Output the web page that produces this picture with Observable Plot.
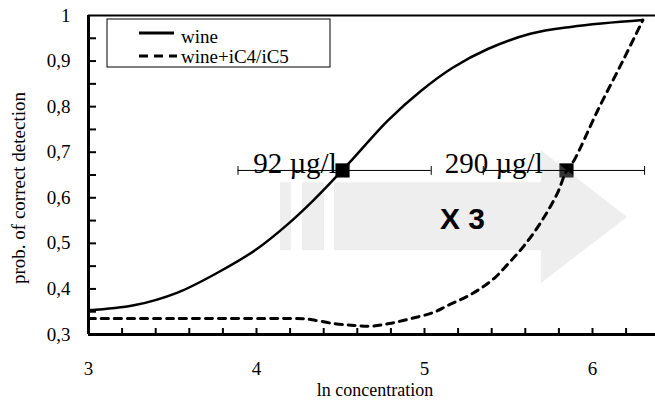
<!DOCTYPE html>
<html><head><meta charset="utf-8">
<script src="https://cdn.jsdelivr.net/npm/d3@7"></script>
<script src="https://cdn.jsdelivr.net/npm/@observablehq/plot@0.6"></script>
<style>
body{margin:0;background:#fff} svg{display:block}
g[aria-label$="tick label"], g[aria-label$="tick label"] text { font-family: 'Liberation Serif', 'Times New Roman', serif !important; }
</style>
</head><body><div id="chart"></div>
<script>
// ---- data ----
const seriesNames = ["wine", "wine+iC4/iC5"];
const wineX = [3.0, 3.27, 3.53, 3.77, 4.0, 4.18, 4.34, 4.51, 4.58, 4.78, 4.98, 5.17, 5.38, 5.63, 5.87, 6.30];
const wineY = [0.353, 0.364, 0.392, 0.436, 0.487, 0.54, 0.595, 0.66, 0.688, 0.769, 0.835, 0.886, 0.927, 0.96, 0.975, 0.99];
const mixX = [3.0, 3.5, 4.2, 4.3, 4.46, 4.58, 4.68, 4.79, 4.92, 5.05, 5.14, 5.24, 5.33, 5.42, 5.50, 5.58, 5.68, 5.79, 5.84, 5.89, 6.03, 6.18, 6.30];
const mixY = [0.335, 0.335, 0.335, 0.334, 0.324, 0.320, 0.318, 0.324, 0.335, 0.348, 0.364, 0.381, 0.400, 0.425, 0.456, 0.489, 0.539, 0.609, 0.655, 0.682, 0.791, 0.900, 0.990];

const thresholdX = [4.512, 5.845];
const thresholdY = [0.66, 0.66];
const thresholdLow = [3.89, 5.35];
const thresholdHigh = [5.04, 6.31];
const thresholdLabels = ["92 µg/l", "290 µg/l"];
const thresholdLabelX = [3.98, 5.12];

const factorLabel = "X 3";
const factorX = 5.226;
const factorY = 0.552;

// arrow annotation (data units)
const arrowRectX1 = [4.143, 4.274, 4.464];
const arrowRectX2 = [4.208, 4.405, 5.696];
const arrowRectLow = [0.484, 0.484, 0.484];
const arrowRectHigh = [0.633, 0.633, 0.633];
const arrowHeadX = [5.696, 6.208];
const arrowHeadLow = [0.412, 0.557];
const arrowHeadHigh = [0.703, 0.557];

const xTickLabels = [3, 4, 5, 6];
const xTickMinor = [3.2, 3.4, 3.6, 3.8, 4.0, 4.2, 4.4, 4.6, 4.8, 5.0, 5.2, 5.4, 5.6, 5.8, 6.0, 6.2];
const yTickLabels = [0.3, 0.4, 0.5, 0.6, 0.7, 0.8, 0.9, 1];
const yTickMinor = [0.35, 0.4, 0.45, 0.5, 0.55, 0.6, 0.65, 0.7, 0.75, 0.8, 0.85, 0.9, 0.95];

const xTitle = "ln concentration";
const yTitle = "prob. of correct detection";

// ---- build ----
const serif = "'Liberation Serif', 'Times New Roman', serif";
const wine = wineX.map((x, i) => ({x, y: wineY[i]}));
const mix = mixX.map((x, i) => ({x, y: mixY[i]}));
const thresholds = thresholdX.map((x, i) => ({x, y: thresholdY[i], lo: thresholdLow[i], hi: thresholdHigh[i], label: thresholdLabels[i], lx: thresholdLabelX[i]}));
const barEnds = thresholds.flatMap(d => [{x: d.lo, y: d.y}, {x: d.hi, y: d.y}]);
const arrowRects = arrowRectX1.map((x1, i) => ({x1, x2: arrowRectX2[i], y1: arrowRectLow[i], y2: arrowRectHigh[i]}));
const arrowHead = arrowHeadX.map((x, i) => ({x, y1: arrowHeadLow[i], y2: arrowHeadHigh[i]}));

const vTick = {draw(ctx, l) { ctx.moveTo(0, 0); ctx.lineTo(0, -l); }};

function legend(index, scales, values, dims) {
  const g = d3.create("svg:g");
  const x0 = dims.marginLeft + 19, y0 = dims.marginTop + 4;
  g.append("rect").attr("x", x0).attr("y", y0).attr("width", 223).attr("height", 48)
    .attr("fill", "white").attr("stroke", "black").attr("stroke-width", 1);
  g.append("line").attr("x1", x0 + 32).attr("x2", x0 + 67).attr("y1", y0 + 14).attr("y2", y0 + 14)
    .attr("stroke", "black").attr("stroke-width", 3);
  g.append("line").attr("x1", x0 + 32).attr("x2", x0 + 70).attr("y1", y0 + 37).attr("y2", y0 + 37)
    .attr("stroke", "black").attr("stroke-width", 3).attr("stroke-dasharray", "9,6");
  seriesNames.forEach((s, i) => {
    g.append("text").attr("x", x0 + 74).attr("y", y0 + 24 + i * 20)
      .attr("text-anchor", "start")
      .attr("font-family", serif).attr("font-size", 19).attr("fill", "black").text(s);
  });
  return g.node();
}

const plot = Plot.plot({
  width: 655, height: 405,
  marginLeft: 88, marginRight: 0, marginTop: 15, marginBottom: 71,
  x: {domain: [3, 6.375]},
  y: {domain: [0.3, 1]},
  style: {fontFamily: serif, background: "white", color: "black", overflow: "visible"},
  marks: [
    Plot.dot(thresholds, {x: "x", y: "y", symbol: "square", r: 8, fill: "black", stroke: null}),
    Plot.rect(arrowRects, {x1: "x1", x2: "x2", y1: "y1", y2: "y2", fill: "#c0c0c0", fillOpacity: 0.27}),
    Plot.area(arrowHead, {x1: "x", y1: "y1", y2: "y2", fill: "#c0c0c0", fillOpacity: 0.27}),
    Plot.line(wine, {x: "x", y: "y", curve: "catmull-rom", stroke: "black", strokeWidth: 2.5}),
    Plot.line(mix, {x: "x", y: "y", curve: "catmull-rom", stroke: "black", strokeWidth: 3, strokeDasharray: "7,6"}),
    Plot.ruleY(thresholds, {y: "y", x1: "lo", x2: "hi", stroke: "black", strokeWidth: 1}),
    Plot.vector(barEnds, {x: "x", y: "y", length: 8, rotate: 0, anchor: "middle", shape: vTick, stroke: "black", strokeWidth: 1}),
    Plot.text(thresholds, {x: "lx", y: "y", text: "label", textAnchor: "start", fontSize: 29, dy: -7, fill: "black", fontFamily: serif}),
    Plot.text([factorLabel], {x: factorX, y: factorY, text: d => d, fontSize: 30, fontWeight: "bold", fontFamily: "'Liberation Sans', Arial, sans-serif", fill: "black"}),
    Plot.axisY({ticks: yTickMinor, tickSize: -8, tickFormat: () => "", label: null, strokeWidth: 2}),
    Plot.axisY({ticks: yTickLabels, tickSize: 0, tickPadding: 18, tickFormat: d => String(d).replace(".", ","), fontSize: 19, fontFamily: serif, label: null}),
    Plot.axisX({ticks: xTickMinor, tickSize: -6, tickFormat: () => "", label: null, strokeWidth: 2}),
    Plot.axisX({ticks: xTickLabels, tickSize: 0, tickPadding: 27, tickFormat: d => String(d), fontSize: 19, fontFamily: serif, label: null}),
    Plot.ruleX([3], {stroke: "black", strokeWidth: 3}),
    Plot.ruleY([0.3], {stroke: "black", strokeWidth: 3}),
    Plot.ruleY([1], {stroke: "black", strokeWidth: 2}),
    Plot.text([yTitle], {frameAnchor: "left", rotate: -90, dx: -70, dy: 13, textAnchor: "middle", fontSize: 19, fill: "black", fontFamily: serif}),
    Plot.text([xTitle], {frameAnchor: "bottom", dx: 3, dy: 61, textAnchor: "middle", fontSize: 18, fill: "black", fontFamily: serif}),
    legend
  ]
});
document.getElementById("chart").appendChild(plot);
</script>
</body></html>
